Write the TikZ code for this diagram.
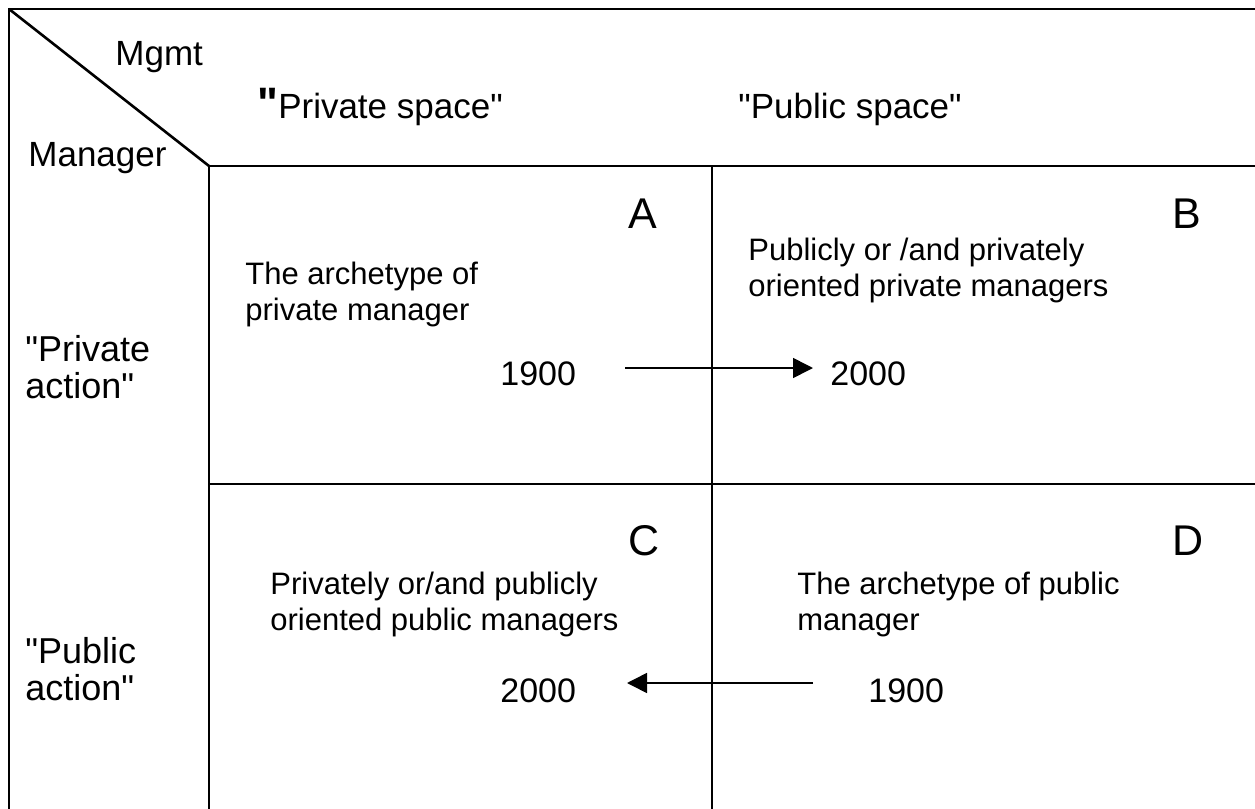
\documentclass[tikz,border=0pt]{standalone}
\usepackage{fontspec}
\setmainfont{Liberation Sans}
\usetikzlibrary{arrows.meta}
\newcommand\dq{\textquotedbl}
\begin{document}
\begin{tikzpicture}[x=0.5pt,y=-0.5pt,
  grid/.style={line width=1.3pt},
  lbl/.style={inner sep=0pt,anchor=base west},
  multi/.style={inner sep=0pt,anchor=north west,align=left},
  headfont/.style={font=\fontsize{17.5}{21}\selectfont},
  cornerfont/.style={font=\fontsize{17.5}{20}\selectfont},
  sidefont/.style={font=\fontsize{18}{18.5}\selectfont},
  bodyfont/.style={font=\fontsize{15.5}{17.7}\selectfont},
  letterfont/.style={font=\fontsize{21.5}{24}\selectfont},
  yearfont/.style={font=\fontsize{17}{20}\selectfont},
  flow/.style={line width=0.8pt,-{Triangle[length=10pt,width=10pt]}}]
\useasboundingbox (0,0) rectangle (1255,809);

% frame and grid
\draw[grid] (1255,9) -- (9,9) -- (9,809);
\draw[grid] (9,9) -- (209,166);
\draw[grid] (209,166) -- (1255,166);
\draw[grid] (209,166) -- (209,809);
\draw[grid] (712,166) -- (712,809);
\draw[grid] (209,484) -- (1255,484);

% corner labels
\node[lbl,cornerfont] (mgmt) at (115,65) {Mgmt};
\node[lbl,cornerfont] (mgr) at (28,166) {Manager};

% column headers
\node[lbl,headfont] (colpriv) at (257,118) {{\fontsize{22}{22}\selectfont\bfseries\dq}Private space\dq};
\node[lbl,headfont] (colpub) at (738,118) {\dq Public space\dq};

% row headers
\node[multi,sidefont] (rowpriv) at (25,335) {\dq Private\\action\dq};
\node[multi,sidefont] (rowpub) at (25,637) {\dq Public\\action\dq};

% quadrant letters
\node[lbl,letterfont] (la) at (628,228) {A};
\node[lbl,letterfont] (lb) at (1172,228) {B};
\node[lbl,letterfont] (lc) at (628,555) {C};
\node[lbl,letterfont] (ld) at (1172,555) {D};

% quadrant texts
\node[multi,bodyfont] (ta) at (245,262) {The archetype of\\private manager};
\node[multi,bodyfont] (tb) at (748,238) {Publicly or /and privately\\oriented private managers};
\node[multi,bodyfont] (tc) at (270,572) {Privately or/and publicly\\oriented public managers};
\node[multi,bodyfont] (td) at (797,572) {The archetype of public\\manager};

% years
\node[lbl,yearfont] (ya1) at (500,385) {1900};
\node[lbl,yearfont] (yb2) at (830,385) {2000};
\node[lbl,yearfont] (yc2) at (500,702) {2000};
\node[lbl,yearfont] (yd1) at (868,702) {1900};

% transitions
\coordinate (s1) at (625,368);
\coordinate (e1) at (813,368);
\coordinate (s2) at (813,683);
\coordinate (e2) at (627,683);
\draw[flow] (s1) -- (e1);
\draw[flow] (s2) -- (e2);
\end{tikzpicture}
\end{document}
